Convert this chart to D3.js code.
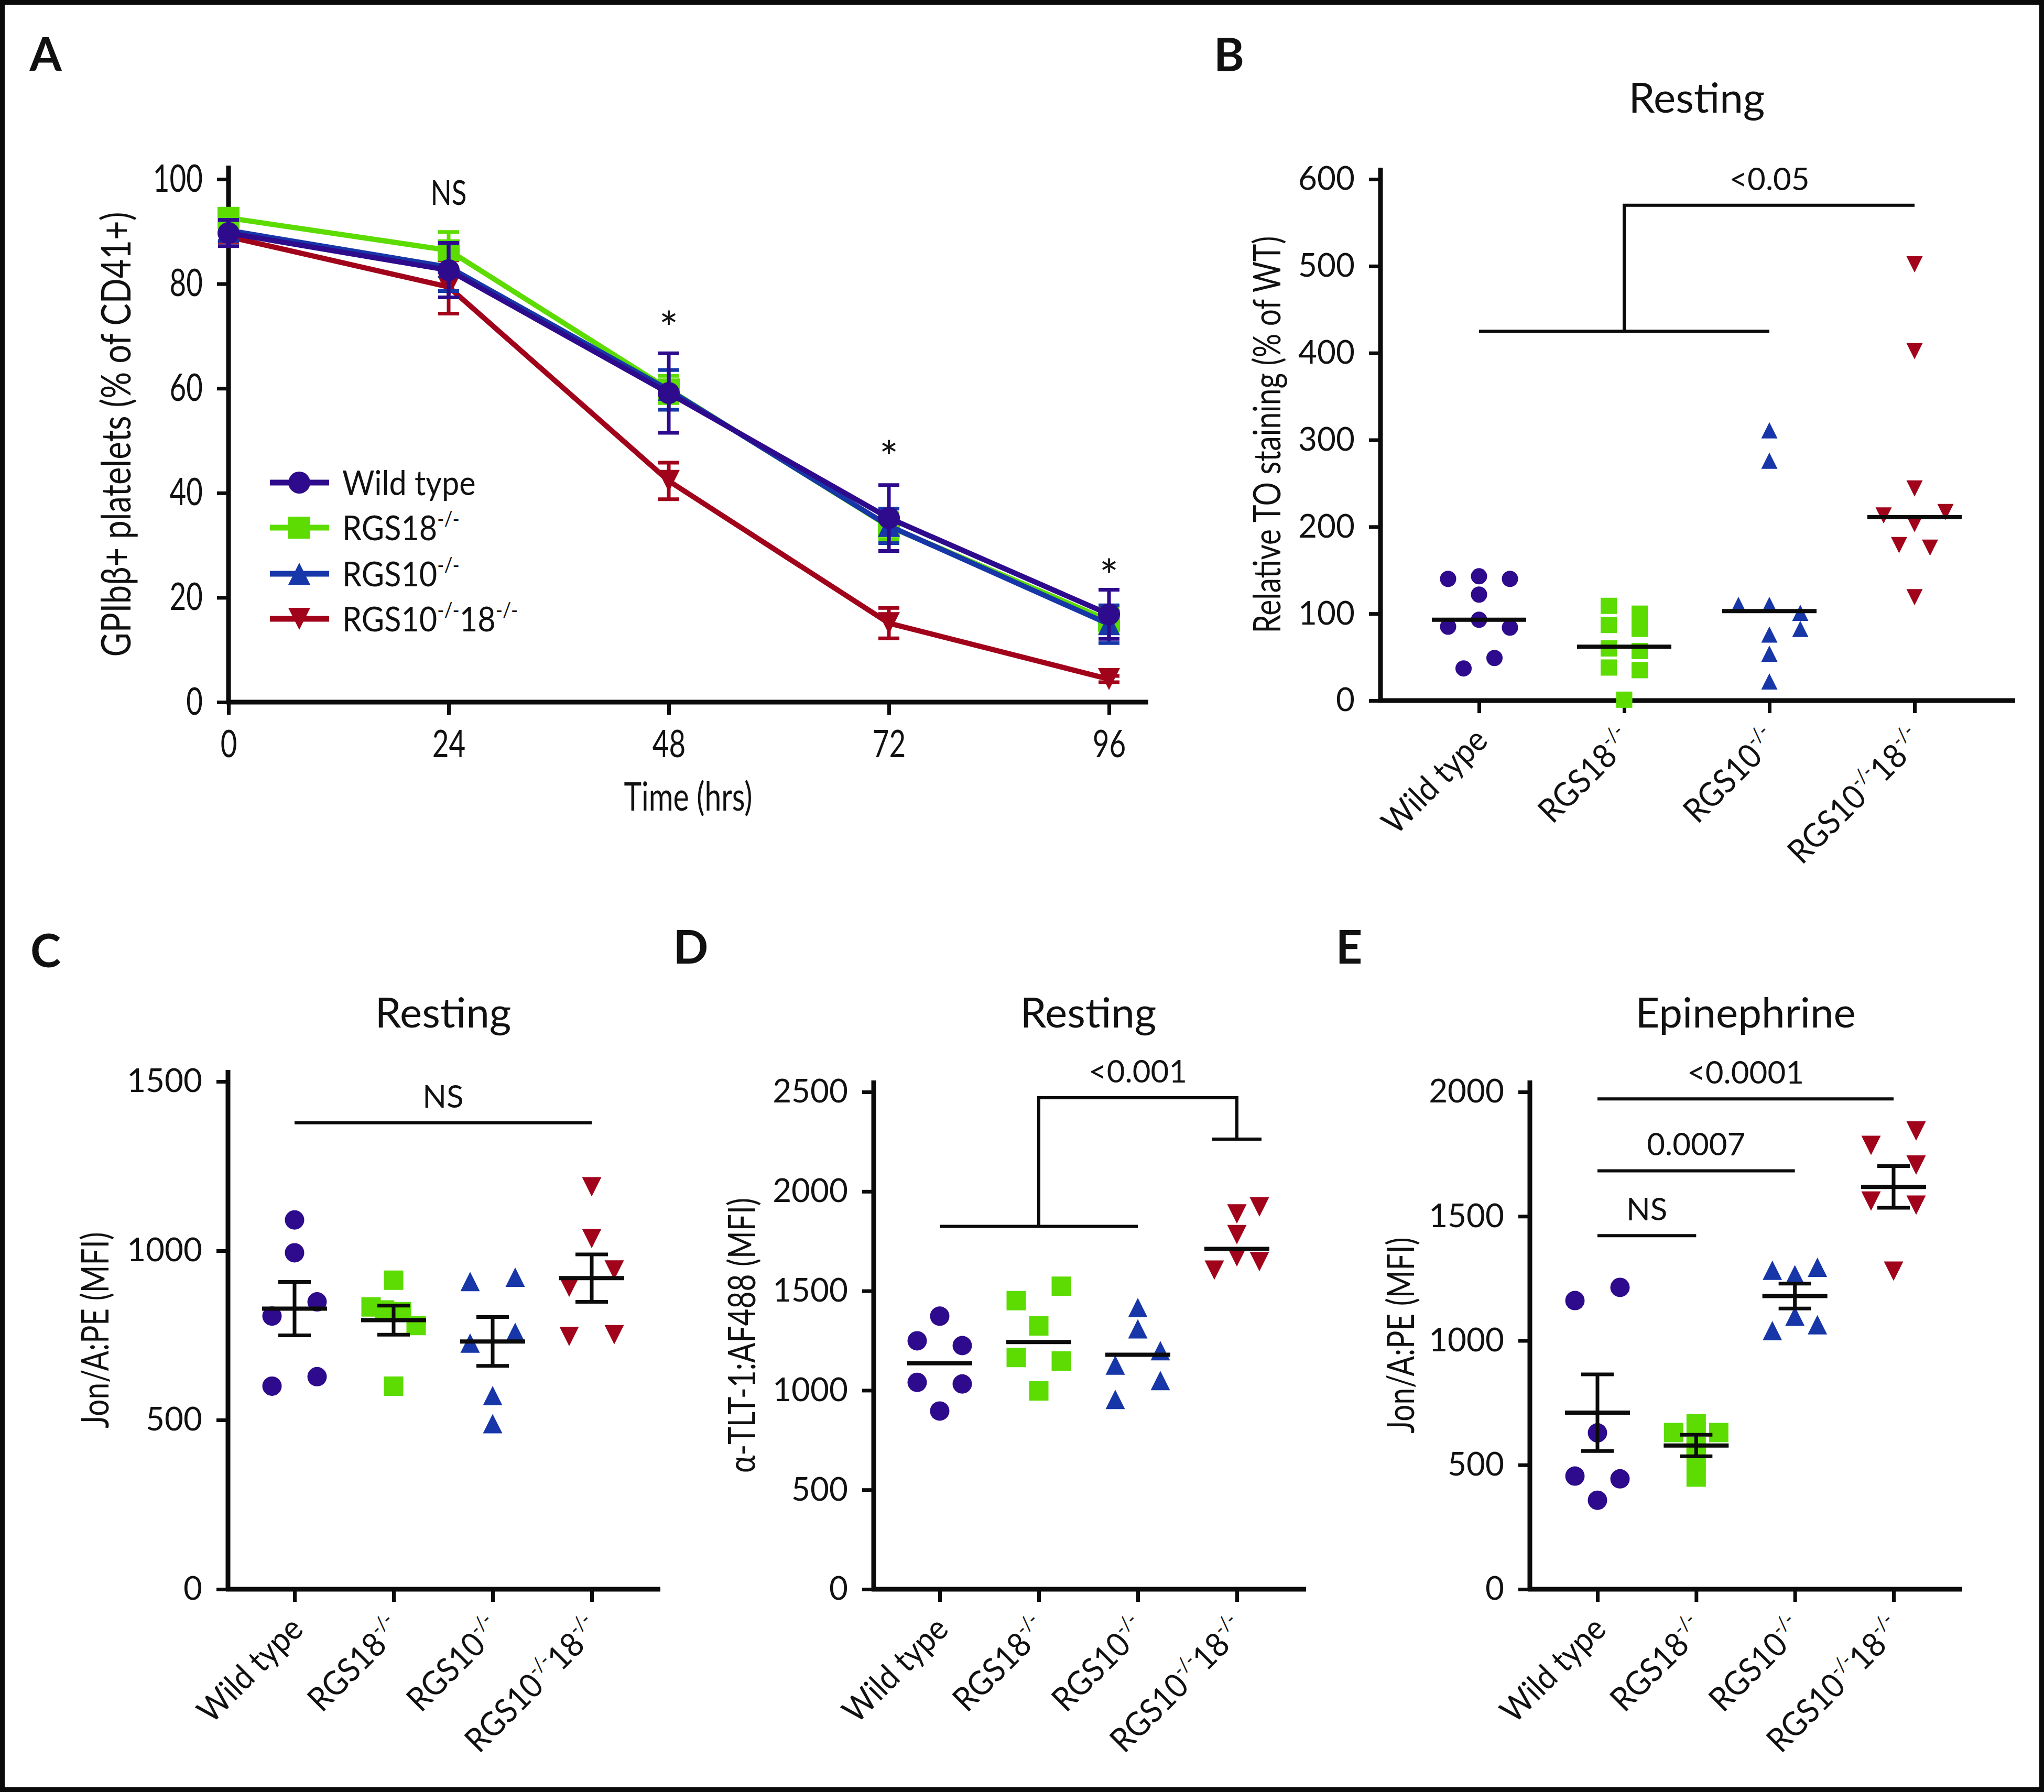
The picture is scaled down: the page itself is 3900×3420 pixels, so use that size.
<!DOCTYPE html>
<html>
<head>
<meta charset="utf-8">
<script src="https://cdn.jsdelivr.net/npm/d3@7"></script>
<style>
  body { margin: 0; background: #fff; }
  text { font-family: Lato, "Noto Sans", sans-serif; fill: #111; }
</style>
</head>
<body>
<svg id="fig" width="3900" height="3420"></svg>
<script>

//  Groups, colours and symbols (shared by all panels)
var groups = ['wt', 'rgs18', 'rgs10', 'dko'];
var groupColors = ['#2e0a8c', '#5cdc00', '#1736a8', '#a1031b'];
var groupShapes = ['circle', 'square', 'triangle', 'invtriangle'];
var categoryLabels = [
    [['Wild type', 0]],
    [['RGS18', 0], ['-/-', 1]],
    [['RGS10', 0], ['-/-', 1]],
    [['RGS10', 0], ['-/-', 1], ['18', 0], ['-/-', 1]]
];

//  Panel A - time course (mean +/- SEM)
var timePoints = [0, 24, 48, 72, 96];
var aTicks = [0, 20, 40, 60, 80, 100];
var aWildType = [89.7, 82.6, 59.1, 35.2, 16.8];
var aWildTypeErr = [2.5, 5.2, 7.6, 6.3, 4.7];
var aRgs18 = [92.6, 86.4, 59.8, 33.6, 15.6];
var aRgs18Err = [1.2, 3.5, 2.6, 2.5, 2.2];
var aRgs10 = [90.2, 83.2, 59.7, 33.7, 14.9];
var aRgs10Err = [2.0, 4.6, 3.8, 3.3, 3.6];
var aDko = [89.0, 79.4, 42.3, 15.1, 4.4];
var aDkoErr = [1.0, 5.1, 3.5, 2.9, 0.6];
var aSigTimes = [24, 48, 72, 96];
var aSigText = ['NS', '*', '*', '*'];
var aSigLevel = [97.4, 73.6, 48.9, 26.2];

//  Panel B - TO staining, resting
var bTicks = [0, 100, 200, 300, 400, 500, 600];
var bWildType = [140, 143, 140, 122, 85, 93, 84, 37, 49];
var bRgs18 = [109, 87, 60, 38, 100, 82.5, 57, 35, 1];
var bRgs10 = [311, 276, 110, 110, 101, 76, 82.5, 54, 22];
var bDko = [502, 402, 244, 213, 217, 203, 179, 176, 119];
var bLanes = [
    [-2, 0, 2, 0, -2, 0, 2, -1, 1],
    [-1, -1, -1, -1, 1, 1, 1, 1, 0],
    [0, 0, -2, 0, 2, 0, 2, 0, 0],
    [0, 0, 0, -2, 2, 0, -1, 1, 0]
];
var bMeans = [93, 62, 103, 211];

//  Panel C - JON/A binding, resting
var cTicks = [0, 500, 1000, 1500];
var cWildType = [1091, 994, 849, 807, 600, 628];
var cRgs18 = [913, 834, 825, 820, 779, 600];
var cRgs10 = [909, 922, 727, 759, 572, 489];
var cDko = [1189, 1036, 892, 943, 747, 752];
var cLanes = [
    [0, 0, 1, -1, -1, 1],
    [0, -1, -0.4, 0.35, 1, 0],
    [-1, 1, -1, 1, 0, 0],
    [0, 0, -1, 1, -1, 1]
];
var cMeans = [829, 795, 732, 919];
var cSems = [79, 43, 72, 70];

//  Panel D - TLT-1 exposure, resting
var dTicks = [0, 500, 1000, 1500, 2000, 2500];
var dWildType = [1373, 1249, 1225, 1040, 1032, 896];
var dRgs18 = [1523, 1451, 1324, 1165, 1147, 997];
var dRgs10 = [1416, 1309, 1127, 1199, 1049, 954];
var dDko = [1922, 1887, 1783, 1604, 1671, 1647];
var dLanes = [
    [0, -1, 1, -1, 1, 0],
    [1, -1, 0, -1, 1, 0],
    [0, 0, -1, 1, 1, -1],
    [1, 0, 0, -1, 0, 1]
];
var dMeans = [1136, 1243, 1179, 1711];

//  Panel E - JON/A binding, epinephrine
var eTicks = [0, 500, 1000, 1500, 2000];
var eWildType = [1161, 1214, 629, 455, 444, 358];
var eRgs18 = [630, 666, 630, 575, 527, 451];
var eRgs10 = [1283, 1265, 1295, 1098, 1040, 1064];
var eDko = [1785, 1843, 1706, 1561, 1545, 1279];
var eLanes = [
    [-1, 1, 0, -1, 1, 0],
    [-1, 0, 1, 0, 0, 0],
    [-1, 0, 1, 0, -1, 1],
    [-1, 1, 1, -1, 1, 0]
];
var eMeans = [710, 578, 1179, 1618];
var eSems = [154, 43, 50, 84];


var svg = d3.select('#fig');
var INK = '#0b0b0b';

//  outer frame
svg.append('rect')
    .attr('x', 4.5).attr('y', 4.5).attr('width', 3891).attr('height', 3411)
    .attr('fill', 'none').attr('stroke', INK).attr('stroke-width', 9);


function markerPath(shape, s) {
    var h = s / 2;
    if (shape === 'square') return 'M' + -h + ',' + -h + 'H' + h + 'V' + h + 'H' + -h + 'Z';
    if (shape === 'triangle') return 'M0,' + -h + 'L' + h + ',' + h + 'L' + -h + ',' + h + 'Z';
    if (shape === 'invtriangle') return 'M0,' + h + 'L' + h + ',' + -h + 'L' + -h + ',' + -h + 'Z';
    return 'M' + h + ',0A' + h + ',' + h + ' 0 1,1 ' + -h + ',0A' + h + ',' + h + ' 0 1,1 ' + h + ',0Z';
}

//  text with superscript parts (baseDy shifts the whole line, in px)
function appendRich(t, parts, size, baseDy) {
    var shift = -(baseDy || 0);
    parts.forEach(function(part) {
        var target = part[1] ? -0.42 * size : 0;
        t.append('tspan')
            .text(part[0])
            .attr('dy', target - shift)
            .style('font-size', (part[1] ? 0.6 * size : size) + 'px');
        shift = target;
    });
}

function plainText(parent, x, y, str, size, o) {
    o = o || {};
    var tf = 'translate(' + x + ',' + y + ')';
    if (o.rotate) tf += ' rotate(' + o.rotate + ')';
    if (o.squeeze) tf += ' scale(' + o.squeeze + ',1)';
    return parent.append('text')
        .attr('transform', tf)
        .attr('text-anchor', o.anchor || 'middle')
        .attr('dy', o.dy || '0.35em')
        .style('font-size', size + 'px')
        .style('font-weight', o.bold ? 700 : null)
        .text(str);
}

function styleAxis(axisG, size, squeeze) {
    axisG.selectAll('.tick line').attr('stroke', INK).attr('stroke-width', 7);
    axisG.selectAll('.tick text').style('font-size', size + 'px').attr('fill', '#111');
    if (squeeze) {
        axisG.selectAll('.tick text')
            .attr('transform', 'scale(' + squeeze + ',1)')
            .attr('x', function() { return +d3.select(this).attr('x') / squeeze; });
    }
}

function panelLetter(x, y, str) {
    plainText(svg, x, y, str, 88, { bold: true });
}


//  Panel A

(function() {
    var g = svg.append('g');
    var x = d3.scaleLinear().domain([0, 96]).range([436, 2116]);
    var y = d3.scaleLinear().domain([0, 100]).range([1340, 342]);
    var SQ = 0.76;

    var yAxis = g.append('g').attr('transform', 'translate(' + x(0) + ',0)')
        .call(d3.axisLeft(y).tickValues(aTicks).tickSize(22).tickPadding(27));
    yAxis.select('.domain').remove();
    styleAxis(yAxis, 72, SQ);

    var xAxis = g.append('g').attr('transform', 'translate(0,' + y(0) + ')')
        .call(d3.axisBottom(x).tickValues(timePoints).tickSize(24).tickPadding(30));
    xAxis.select('.domain').remove();
    styleAxis(xAxis, 72, SQ);

    g.append('line')
        .attr('x1', x(0)).attr('x2', x(0)).attr('y1', y(0) + 4).attr('y2', y(100) - 26)
        .attr('stroke', INK).attr('stroke-width', 9);
    g.append('line')
        .attr('x1', x(0) - 4).attr('x2', x(96) + 75).attr('y1', y(0)).attr('y2', y(0))
        .attr('stroke', INK).attr('stroke-width', 9);

    plainText(g, 222, 829, 'GPIbβ+ platelets (% of CD41+)', 78, { rotate: -90, squeeze: 0.81 });
    plainText(g, 1313, 1520, 'Time (hrs)', 76, { squeeze: 0.75 });

    var series = [
        { values: aWildType, err: aWildTypeErr },
        { values: aRgs18, err: aRgs18Err },
        { values: aRgs10, err: aRgs10Err },
        { values: aDko, err: aDkoErr }
    ];
    var drawOrder = [3, 1, 2, 0];

    var line = d3.line()
        .x(function(d, i) { return x(timePoints[i]); })
        .y(function(d) { return y(d); });

    drawOrder.forEach(function(gi) {
        var s = series[gi];
        var col = groupColors[gi];
        var sg = g.append('g');
        sg.append('path').datum(s.values)
            .attr('d', line).attr('fill', 'none')
            .attr('stroke', col).attr('stroke-width', 10).attr('stroke-linejoin', 'round');

        var bars = sg.selectAll(null).data(s.values).enter().append('g');
        bars.append('line')
            .attr('x1', function(d, i) { return x(timePoints[i]); })
            .attr('x2', function(d, i) { return x(timePoints[i]); })
            .attr('y1', function(d, i) { return y(d - s.err[i]); })
            .attr('y2', function(d, i) { return y(d + s.err[i]); })
            .attr('stroke', col).attr('stroke-width', 7);
        [-1, 1].forEach(function(sign) {
            bars.append('line')
                .attr('x1', function(d, i) { return x(timePoints[i]) - 20; })
                .attr('x2', function(d, i) { return x(timePoints[i]) + 20; })
                .attr('y1', function(d, i) { return y(d + sign * s.err[i]); })
                .attr('y2', function(d, i) { return y(d + sign * s.err[i]); })
                .attr('stroke', col).attr('stroke-width', 7);
        });

        sg.selectAll(null).data(s.values).enter().append('path')
            .attr('d', markerPath(groupShapes[gi], 42))
            .attr('fill', col)
            .attr('transform', function(d, i) { return 'translate(' + x(timePoints[i]) + ',' + y(d) + ')'; });
    });

    //  significance marks
    aSigTimes.forEach(function(t, i) {
        var star = aSigText[i] === '*';
        plainText(g, x(t), y(aSigLevel[i]), aSigText[i], star ? 86 : 66,
            { squeeze: star ? 1 : 0.8, dy: star ? '0.6em' : '0.35em' });
    });

    //  legend
    var legendY = [921, 1007, 1095, 1181];
    groups.forEach(function(grp, gi) {
        var lg = g.append('g').attr('transform', 'translate(571,' + legendY[gi] + ')');
        lg.append('line').attr('x1', -56).attr('x2', 57)
            .attr('stroke', groupColors[gi]).attr('stroke-width', 11);
        lg.append('path').attr('d', markerPath(groupShapes[gi], 42)).attr('fill', groupColors[gi]);
        var t = lg.append('text')
            .attr('transform', 'translate(82,0) scale(0.9,1)');
        appendRich(t, categoryLabels[gi], 66, 0.37 * 66);
    });

    panelLetter(87, 104, 'A');
})();


//  Scatter (dot) panels

function dotPanel(p) {
    var g = svg.append('g');
    var x = d3.scalePoint().domain(groups).range([p.catFirst, p.catLast]);
    var y = d3.scaleLinear().domain([0, p.yMax]).range([p.yBottom, p.yTop]);

    var yAxis = g.append('g').attr('transform', 'translate(' + p.axisX + ',0)')
        .call(d3.axisLeft(y).tickValues(p.ticks).tickSize(22).tickPadding(27).tickFormat(d3.format('d')));
    yAxis.select('.domain').remove();
    styleAxis(yAxis, 62);

    var xAxis = g.append('g').attr('transform', 'translate(0,' + y(0) + ')')
        .call(d3.axisBottom(x).tickSize(24).tickFormat(''));
    xAxis.select('.domain').remove();
    styleAxis(xAxis, 62);

    g.append('line')
        .attr('x1', p.axisX).attr('x2', p.axisX).attr('y1', y(0) + 4).attr('y2', p.yTop - 22)
        .attr('stroke', INK).attr('stroke-width', 9);
    g.append('line')
        .attr('x1', p.axisX - 4).attr('x2', p.axisEnd).attr('y1', y(0)).attr('y2', y(0))
        .attr('stroke', INK).attr('stroke-width', 9);

    //  category labels
    groups.forEach(function(grp, gi) {
        var t = g.append('text')
            .attr('transform', 'translate(' + (x(grp) + 20) + ',' + (y(0) + 80) + ') rotate(-45) scale(0.92,1)')
            .attr('text-anchor', 'end');
        appendRich(t, categoryLabels[gi], 64);
    });

    //  titles
    plainText(g, (p.catFirst + p.catLast) / 2, p.titleY, p.title, 80);
    plainText(g, p.axisX - p.labelOffset, (p.yBottom + p.yTop) / 2 - 10, p.ylabel, 71,
        { rotate: -90, squeeze: 0.8 });

    //  points
    p.values.forEach(function(vals, gi) {
        g.selectAll(null).data(vals).enter().append('path')
            .attr('d', markerPath(groupShapes[gi], p.size))
            .attr('fill', groupColors[gi])
            .attr('transform', function(d, i) {
                return 'translate(' + (x(groups[gi]) + p.lanes[gi][i] * p.laneStep) + ',' + y(d) + ')';
            });
    });

    //  mean and SEM
    groups.forEach(function(grp, gi) {
        var cx = x(grp);
        g.append('line')
            .attr('x1', cx - p.meanHalf).attr('x2', cx + p.meanHalf)
            .attr('y1', y(p.means[gi])).attr('y2', y(p.means[gi]))
            .attr('stroke', INK).attr('stroke-width', 8);
        if (!p.sems) return;
        var lo = p.means[gi] - p.sems[gi], hi = p.means[gi] + p.sems[gi];
        g.append('line')
            .attr('x1', cx).attr('x2', cx).attr('y1', y(lo)).attr('y2', y(hi))
            .attr('stroke', INK).attr('stroke-width', 7);
        [lo, hi].forEach(function(v) {
            g.append('line')
                .attr('x1', cx - 31).attr('x2', cx + 31).attr('y1', y(v)).attr('y2', y(v))
                .attr('stroke', INK).attr('stroke-width', 7);
        });
    });

    //  significance brackets
    (p.brackets || []).forEach(function(b) {
        var path = d3.path();
        if (b.type === 'line') {
            path.moveTo(x(groups[b.from]), y(b.level));
            path.lineTo(x(groups[b.to]), y(b.level));
        } else {
            path.moveTo(x(groups[b.lowFrom]), y(b.lowLevel));
            path.lineTo(x(groups[b.lowTo]), y(b.lowLevel));
            path.moveTo(x(groups[b.from]), y(b.lowLevel));
            path.lineTo(x(groups[b.from]), y(b.level));
            path.lineTo(x(groups[b.to]), y(b.level));
            if (b.dropLevel != null) {
                var cx = x(groups[b.to]);
                path.lineTo(cx, y(b.dropLevel));
                path.moveTo(cx - 47, y(b.dropLevel));
                path.lineTo(cx + 47, y(b.dropLevel));
            }
        }
        g.append('path').attr('d', path.toString())
            .attr('fill', 'none').attr('stroke', INK).attr('stroke-width', 6);
        var mid = (x(groups[b.from]) + x(groups[b.to])) / 2;
        plainText(g, mid, y(b.level) - 50, b.text, 60);
    });
}

dotPanel({
    axisX: 2634, axisEnd: 3845, yBottom: 1337, yTop: 342, yMax: 600, ticks: bTicks,
    catFirst: 2822, catLast: 3653, laneStep: 29.5, size: 31, meanHalf: 90,
    values: [bWildType, bRgs18, bRgs10, bDko], lanes: bLanes, means: bMeans,
    title: 'Resting', titleY: 187, ylabel: 'Relative TO staining (% of WT)', labelOffset: 216,
    brackets: [{ type: 'bracket', lowFrom: 0, lowTo: 2, lowLevel: 425, from: 1, to: 3, level: 570, text: '<0.05' }]
});

dotPanel({
    axisX: 435, axisEnd: 1260, yBottom: 3033, yTop: 2064, yMax: 1500, ticks: cTicks,
    catFirst: 562, catLast: 1129, laneStep: 43, size: 37, meanHalf: 62,
    values: [cWildType, cRgs18, cRgs10, cDko], lanes: cLanes, means: cMeans, sems: cSems,
    title: 'Resting', titleY: 1933, ylabel: 'Jon/A:PE (MFI)', labelOffset: 253,
    brackets: [{ type: 'line', from: 0, to: 3, level: 1378, text: 'NS' }]
});

dotPanel({
    axisX: 1667, axisEnd: 2492, yBottom: 3033, yTop: 2084, yMax: 2500, ticks: dTicks,
    catFirst: 1793, catLast: 2360, laneStep: 43, size: 37, meanHalf: 62,
    values: [dWildType, dRgs18, dRgs10, dDko], lanes: dLanes, means: dMeans,
    title: 'Resting', titleY: 1933, ylabel: 'α-TLT-1:AF488 (MFI)', labelOffset: 251,
    brackets: [{ type: 'bracket', lowFrom: 0, lowTo: 2, lowLevel: 1824, from: 1, to: 3, level: 2471, dropLevel: 2263, text: '<0.001' }]
});

dotPanel({
    axisX: 2919, axisEnd: 3744, yBottom: 3033, yTop: 2084, yMax: 2000, ticks: eTicks,
    catFirst: 3048, catLast: 3613, laneStep: 43, size: 37, meanHalf: 62,
    values: [eWildType, eRgs18, eRgs10, eDko], lanes: eLanes, means: eMeans, sems: eSems,
    title: 'Epinephrine', titleY: 1933, ylabel: 'Jon/A:PE (MFI)', labelOffset: 246,
    brackets: [
        { type: 'line', from: 0, to: 3, level: 1972, text: '<0.0001' },
        { type: 'line', from: 0, to: 2, level: 1683, text: '0.0007' },
        { type: 'line', from: 0, to: 1, level: 1422, text: 'NS' }
    ]
});

panelLetter(2345, 105, 'B');
panelLetter(87, 1815, 'C');
panelLetter(1318, 1808, 'D');
panelLetter(2574, 1808, 'E');

</script>
</body>
</html>
